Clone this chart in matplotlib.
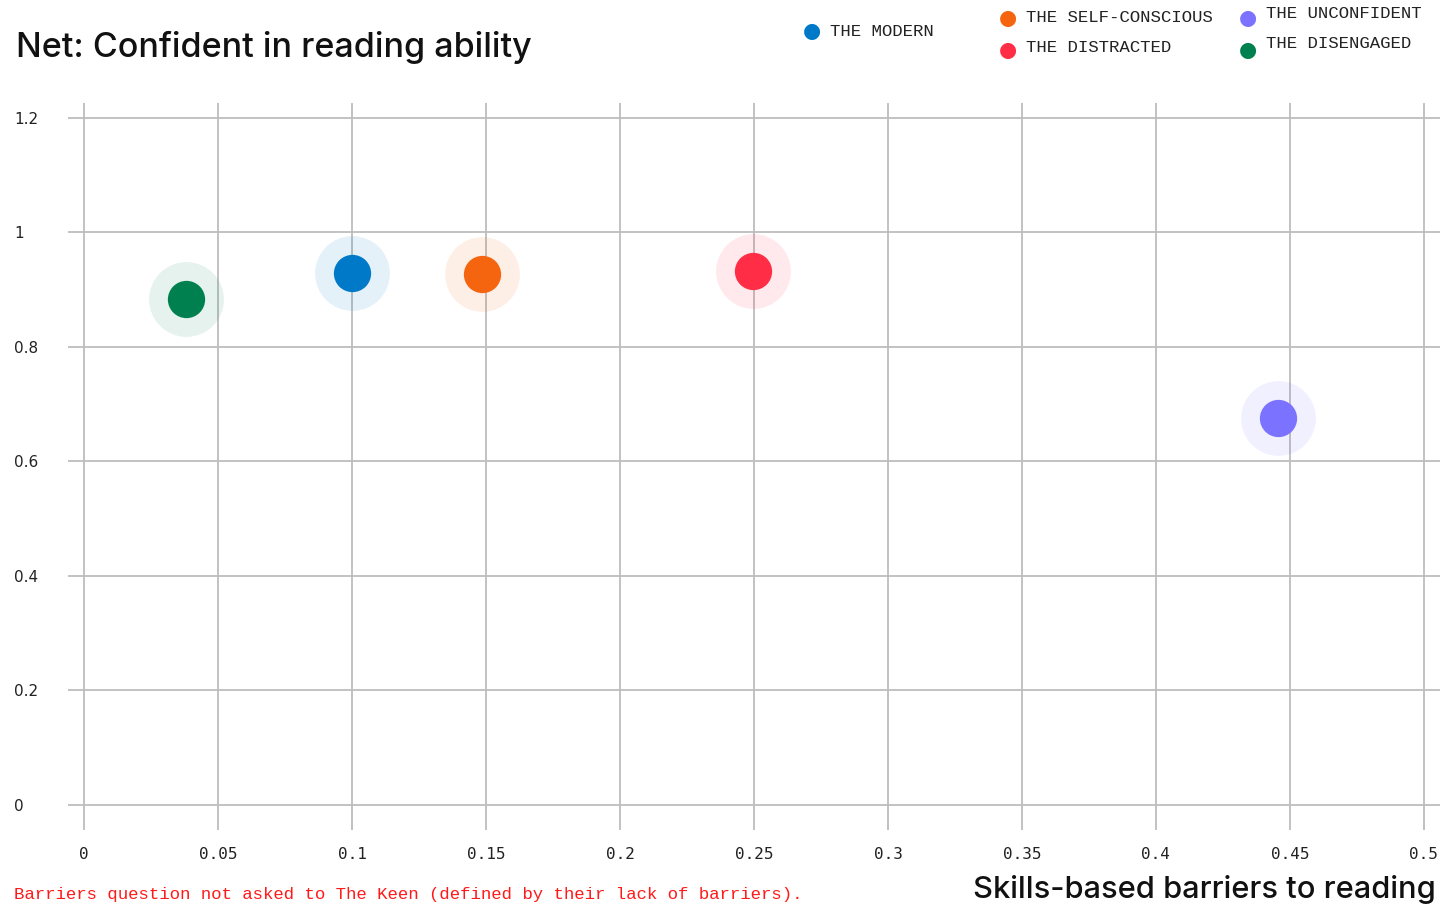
import matplotlib
matplotlib.use("Agg")
import matplotlib.pyplot as plt
from matplotlib.colors import to_rgba

# Segments, their skills-based barriers (x) and net confidence (y)
segments = ["THE MODERN", "THE SELF-CONSCIOUS", "THE DISTRACTED",
            "THE UNCONFIDENT", "THE DISENGAGED"]
barriers = [0.100, 0.1485, 0.2495, 0.4455, 0.038]
confidence = [0.929, 0.927, 0.933, 0.676, 0.884]
colors = ["#0079C8", "#F5640F", "#FF2D45", "#7B73FF", "#00804F"]

x_ticks = [0, 0.05, 0.1, 0.15, 0.2, 0.25, 0.3, 0.35, 0.4, 0.45, 0.5]
x_tick_labels = ["0", "0.05", "0.1", "0.15", "0.2", "0.25", "0.3", "0.35",
                 "0.4", "0.45", "0.5"]
y_ticks = [0, 0.2, 0.4, 0.6, 0.8, 1.0, 1.2]
y_tick_labels = ["0", "0.2", "0.4", "0.6", "0.8", "1", "1.2"]

W, H = 1442, 906
fig = plt.figure(figsize=(W / 100, H / 100), dpi=100)

# axes box in pixel terms
left_px, right_px, top_px, bottom_px = 68, 1440, 103, 830
ax = fig.add_axes([left_px / W, 1 - bottom_px / H,
                   (right_px - left_px) / W, (bottom_px - top_px) / H])

ax.set_xlim(-0.00597, 0.506)
ax.set_ylim(-0.0437, 1.2262)

for spine in ax.spines.values():
    spine.set_visible(False)

ax.set_xticks(x_ticks)
ax.set_xticklabels(x_tick_labels, family="DejaVu Sans Mono", fontsize=11.5,
                   color="#222222")
ax.set_yticks(y_ticks)
ax.set_yticklabels(y_tick_labels, family="DejaVu Sans", fontsize=11,
                   color="#222222", ha="left")
ax.tick_params(axis="x", length=0, pad=12)
ax.tick_params(axis="y", length=0, pad=39)
ax.grid(True, color="#bdbdbd", linewidth=1.3)
ax.set_axisbelow(True)

# halo + solid dot for each segment
for x, y, c in zip(barriers, confidence, colors):
    ax.scatter([x], [y], s=2900, color=to_rgba(c, 0.1), linewidths=0, zorder=3)
    ax.scatter([x], [y], s=720, color=c, linewidths=0, zorder=4)

# title and axis label
fig.text(16 / W, 1 - 47 / H, "Net: Confident in reading ability",
         family="Inter", fontsize=24.5, fontweight="medium", va="center",
         ha="left", color="#111111")
fig.text(1436 / W, 1 - 890 / H, "Skills-based barriers to reading",
         family="Inter", fontsize=22.2, fontweight="medium", va="center",
         ha="right", color="#111111")

# footnote
fig.text(14 / W, 1 - 895 / H,
         "Barriers question not asked to The Keen (defined by their lack of barriers).",
         family="Liberation Mono", fontsize=12.5, color="#FF1A1A",
         va="center", ha="left")

# legend laid out in three columns
legend_pos = [(812, 31), (1008, 18), (1008, 50), (1248, 18), (1248, 50)]
text_dy = [0, 0, -2, -4, -6]
for (px, py), dy, name, c in zip(legend_pos, text_dy, segments, colors):
    fig.text(px / W, 1 - py / H, "\u25CF", family="DejaVu Sans", fontsize=15,
             color=c, ha="center", va="center")
    fig.text((px + 18) / W, 1 - (py + dy) / H, name,
             family="Liberation Mono", fontsize=12.5, color="#222222",
             ha="left", va="center")

fig.savefig("out.png", dpi=100, facecolor="white")
